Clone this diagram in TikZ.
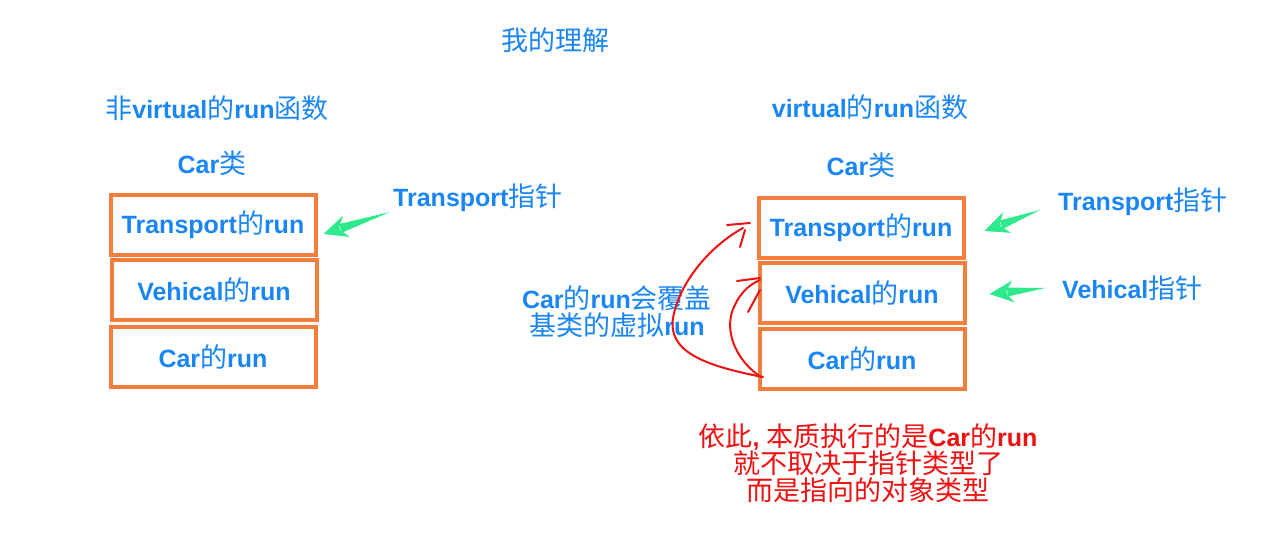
\documentclass[tikz,border=0pt]{standalone}
\usepackage{fontspec}
\setmainfont{Liberation Sans}
\newfontfamily\cjk[Scale=1.08]{Noto Sans CJK SC}
\usetikzlibrary{arrows.meta,shadows,calc}
\definecolor{tblue}{HTML}{1A86F5}
\definecolor{borange}{HTML}{F27D3D}
\definecolor{pgreen}{HTML}{2EEA8C}
\definecolor{rred}{HTML}{EE1111}
\newcommand{\lat}[1]{\textbf{#1}}
\newcommand{\zh}[1]{{\cjk #1}}
\begin{document}
\begin{tikzpicture}[x=1pt,y=-1pt,
  lbl/.style={text=tblue,font=\fontsize{25}{28}\selectfont,inner sep=0pt},
  runbox/.style={draw=borange,line width=4pt,minimum width=205pt,minimum height=60pt,fill=white,
    drop shadow={shadow xshift=2pt,shadow yshift=-2pt,opacity=0.35},
    text=tblue,font=\fontsize{25}{28}\selectfont,inner sep=0pt},
  ptrhead/.style={draw=pgreen,fill=pgreen,line width=1pt,-{Stealth[length=24pt,width=22pt,inset=8pt]}},
  hand/.style={draw=rred,line width=2pt,line cap=round}]
\useasboundingbox[fill=white] (0,0) rectangle (1284,541);

% titles
\node[lbl] (title) at (555,40) {\zh{我的理解}};
\node[lbl] (hL) at (217,108) {\zh{非}\lat{virtual}\zh{的}\lat{run}\zh{函数}};
\node[lbl] (cL) at (212,163) {\lat{Car}\zh{类}};
\node[lbl] (hR) at (870,107) {\lat{virtual}\zh{的}\lat{run}\zh{函数}};
\node[lbl] (cR) at (861,165) {\lat{Car}\zh{类}};

% left boxes
\node[runbox] (L1) at (213,225) {\lat{Transport}\zh{的}\lat{run}};
\node[runbox] (L2) at (214,290) {\lat{Vehical}\zh{的}\lat{run}};
\node[runbox] (L3) at (213,357) {\lat{Car}\zh{的}\lat{run}};

% right boxes
\node[runbox] (R1) at (861,228) {\lat{Transport}\zh{的}\lat{run}};
\node[runbox] (R2) at (862,293) {\lat{Vehical}\zh{的}\lat{run}};
\node[runbox] (R3) at (862,359) {\lat{Car}\zh{的}\lat{run}};

% pointer labels
\node[lbl,anchor=west] (pT) at (393,198) {\lat{Transport}\zh{指针}};
\node[lbl,anchor=west] (pTR) at (1058,202) {\lat{Transport}\zh{指针}};
\node[lbl,anchor=west] (pVR) at (1062,288) {\lat{Vehical}\zh{指针}};

% green arrows (tapered shaft + head)
\coordinate (gA) at (390,212);
\coordinate (gB) at (1040,210);
\coordinate (gC) at (1045,288);
\coordinate (tA) at ([xshift=6pt,yshift=-9pt]L1.east);
\coordinate (tB) at ([xshift=19pt,yshift=-3pt]R1.east);
\coordinate (tC) at ([xshift=23pt,yshift=-1pt]R2.east);
\foreach \s/\t in {gA/tA,gB/tB,gC/tC}{
  \coordinate (m) at ($(\t)!18pt!(\s)$);
  \fill[pgreen] (\s) -- ($(m)!4.5pt!90:(\s)$) -- ($(m)!4.5pt!-90:(\s)$) -- cycle;
  \draw[ptrhead] ($(\t)!22pt!(\s)$) -- (\t);
}

% override note
\node[lbl,align=center] (note) at (617,312)
  {\lat{Car}\zh{的}\lat{run}\zh{会覆盖}\\[-1pt]\zh{基类的虚拟}\lat{run}};

% red hand-drawn arrows
\coordinate (a0) at (763,377);
\coordinate (a1) at (743,228);
\coordinate (b0) at (761,377);
\coordinate (b1) at (760,280);
\draw[hand] (a0) .. controls (700,365) and (668,350) .. (673,318)
  .. controls (680,280) and (712,245) .. (a1);
\draw[hand] (727,225) -- (750,223);
\draw[hand] (745,230) -- (740,247);
\draw[hand] (b0) .. controls (738,362) and (725,335) .. (732,312)
  .. controls (738,295) and (748,285) .. (b1);
\draw[hand] (737,281) -- (760,278);
\draw[hand] (760,290) -- (748,312);

% conclusion
\node[text=rred,font=\fontsize{25}{28}\selectfont,align=center,inner sep=0pt] (concl) at (868,463)
  {\zh{依此}\lat{,} \zh{本质执行的是}\lat{Car}\zh{的}\lat{run}\\[-1pt]
   \zh{就不取决于指针类型了}\\[-1pt]
   \zh{而是指向的对象类型}};
\end{tikzpicture}
\end{document}
